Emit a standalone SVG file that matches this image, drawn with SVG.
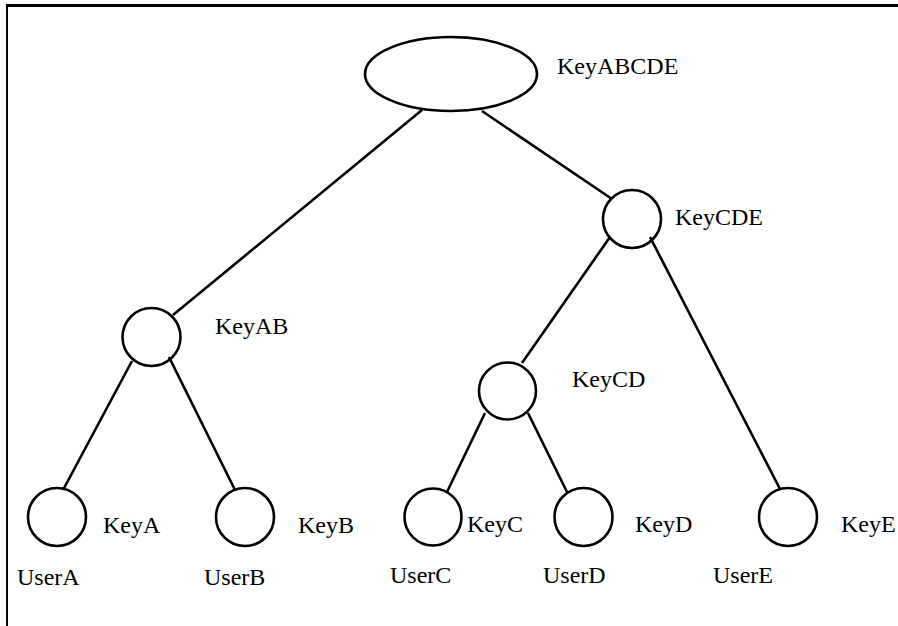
<svg xmlns="http://www.w3.org/2000/svg" width="898" height="626" viewBox="0 0 898 626">
<style>
.n{fill:none;stroke:#000;stroke-width:2.6}
.e{stroke:#000;stroke-width:2.6;fill:none}
text{font-family:"Liberation Serif","Times New Roman",serif;font-size:24px;fill:#000}
</style>
<rect width="898" height="626" fill="#fff"/>
<g id="frame">
<line x1="6" y1="5.5" x2="898" y2="5.5" stroke="#000" stroke-width="3"/>
<line x1="7" y1="4" x2="7" y2="626" stroke="#000" stroke-width="2"/>
</g>
<g id="connectors">
<line class="e" x1="422" y1="110" x2="173" y2="315"/>
<line class="e" x1="482" y1="111" x2="612" y2="199"/>
<line class="e" x1="132" y1="361" x2="63" y2="490"/>
<line class="e" x1="169" y1="357" x2="235" y2="490"/>
<line class="e" x1="610" y1="237" x2="522" y2="363"/>
<line class="e" x1="650" y1="237" x2="780" y2="489"/>
<line class="e" x1="485" y1="413" x2="447" y2="492"/>
<line class="e" x1="528" y1="413" x2="567" y2="492"/>
</g>
<g id="keyABCDE"><ellipse class="n" cx="451" cy="74" rx="86" ry="37"/><text x="557" y="74">KeyABCDE</text></g>
<g id="keyCDE"><circle class="n" cx="632" cy="219" r="29"/><text x="675" y="225">KeyCDE</text></g>
<g id="keyAB"><circle class="n" cx="151.5" cy="337" r="29"/><text x="215" y="334">KeyAB</text></g>
<g id="keyCD"><circle class="n" cx="507.5" cy="391" r="28.5"/><text x="572" y="387">KeyCD</text></g>
<g id="keyA"><circle class="n" cx="57" cy="517" r="29"/><text x="103" y="533">KeyA</text><text x="17" y="585">UserA</text></g>
<g id="keyB"><circle class="n" cx="245" cy="517" r="29"/><text x="298" y="533">KeyB</text><text x="204" y="585">UserB</text></g>
<g id="keyC"><circle class="n" cx="433" cy="517" r="28.5"/><text x="467" y="532">KeyC</text><text x="390" y="583">UserC</text></g>
<g id="keyD"><circle class="n" cx="583.5" cy="517" r="29"/><text x="635" y="532">KeyD</text><text x="543" y="583">UserD</text></g>
<g id="keyE"><circle class="n" cx="788" cy="517" r="29"/><text x="841" y="532">KeyE</text><text x="713" y="583">UserE</text></g>
</svg>
